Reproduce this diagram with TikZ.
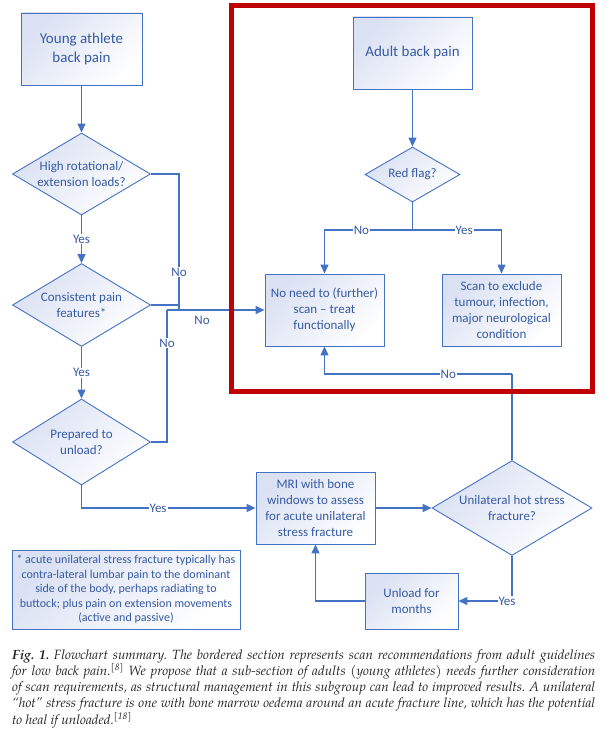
\documentclass[tikz,border=0pt]{standalone}
\usepackage{fontspec}
\setmainfont{Carlito}
\newfontfamily\capfont{TeX Gyre Pagella}
\usetikzlibrary{shapes.geometric,arrows.meta,calc}
\definecolor{ln}{RGB}{68,114,196}
\definecolor{tx}{RGB}{55,90,165}
\definecolor{bf}{RGB}{218,225,243}
\definecolor{rd}{RGB}{192,0,0}
\tikzset{
 box/.style={rectangle, draw=ln, line width=0.9pt, top color=bf, bottom color=white, shading angle=45, inner sep=0pt, align=center, text=tx, font=\fontsize{13}{16}\selectfont},
 dia/.style={diamond, draw=ln, line width=0.9pt, top color=bf, bottom color=white, shading angle=45, inner sep=0pt},
 dtext/.style={align=center, text=tx, font=\fontsize{13}{16.5}\selectfont, inner sep=0pt},
 conn/.style={draw=ln, line width=1.3pt},
 arr/.style={conn, -{Triangle[length=9pt,width=8pt]}},
 lab/.style={fill=white, inner sep=1pt, text=tx, font=\fontsize{13}{15}\selectfont},
 plainlab/.style={inner sep=1pt, text=tx, font=\fontsize{13}{15}\selectfont},
}
\begin{document}
\frenchspacing
\begin{tikzpicture}[x=1pt,y=-1pt]
\useasboundingbox[fill=white] (0,0) rectangle (607,741);
% nodes
\node[box, minimum width=121pt, minimum height=72pt, font=\fontsize{15}{19}\selectfont] (ya) at (81.5,49) {Young athlete\\back pain};
\node[dia, minimum width=138pt, minimum height=82pt] (d1) at (81.5,174) {};
\node[dtext] (d1t) at (d1.center) {High rotational/\\extension loads?};
\node[dia, minimum width=138pt, minimum height=83pt] (d2) at (81.5,305) {};
\node[dtext] (d2t) at (d2.center) {Consistent pain\\features*};
\node[dia, minimum width=138pt, minimum height=86pt] (d3) at (81.5,442) {};
\node[dtext] (d3t) at (d3.center) {Prepared to\\unload?};
\node[box, minimum width=119pt, minimum height=72pt, font=\fontsize{15}{19}\selectfont] (ad) at (412.5,53) {Adult back pain};
\node[dia, minimum width=95pt, minimum height=55pt] (rf) at (412.5,174.5) {};
\node[dtext] (rft) at (rf.center) {Red flag?};
\node[box, minimum width=119pt, minimum height=72pt] (nn) at (324.5,310) {No need to (further)\\scan – treat\\functionally};
\node[box, minimum width=119pt, minimum height=72pt] (sc) at (501.5,310) {Scan to exclude\\tumour, infection,\\major neurological\\condition};
\node[box, minimum width=119pt, minimum height=72pt] (mri) at (315.5,508) {MRI with bone\\windows to assess\\for acute unilateral\\stress fracture};
\node[dia, minimum width=160pt, minimum height=95pt] (uh) at (512,508) {};
\node[dtext] (uht) at (uh.center) {Unilateral hot stress\\fracture?};
\node[box, minimum width=93pt, minimum height=56pt] (ul) at (411.5,601) {Unload for\\months};
\node[box, minimum width=228pt, minimum height=79pt, font=\fontsize{12}{14.5}\selectfont] (fn) at (126,589.5) {* acute unilateral stress fracture typically has\\contra-lateral lumbar pain to the dominant\\side of the body, perhaps radiating to\\buttock; plus pain on extension movements\\(active and passive)};
% connectors
\coordinate (j1) at (179,310);
\coordinate (j2) at (167,310);
\draw[arr] (ya.south) -- (d1.north);
\draw[arr] (d1.south) -- node[lab]{Yes} (d2.north);
\draw[arr] (d2.south) -- node[lab]{Yes} (d3.north);
\draw[conn] (d1.east) -| node[lab,pos=0.86]{No} (j1);
\draw[conn] (d2.east) -- (d2.east -| j1);
\draw[conn] (d3.east) -| node[lab,pos=0.875]{No} (j2);
\draw[arr] (j2) -- node[plainlab,pos=0.36,below=5pt]{No} (nn.west);
\draw[arr] (d3.south) |- node[lab,pos=0.72]{Yes} (mri.west);
\draw[arr] (ad.south) -- (rf.north);
\coordinate (sp) at (412.5,230);
\draw[conn] (rf.south) -- (sp);
\draw[arr] (sp) -| node[lab,pos=0.29]{No} (nn.north);
\draw[arr] (sp) -| node[lab,pos=0.29]{Yes} (sc.north);
\draw[arr] (mri.east) -- (uh.west);
\coordinate (rt) at (512,374);
\draw[conn] (uh.north) -- (rt);
\draw[arr] (rt) -| node[lab,pos=0.17]{No} (nn.south);
\draw[arr] (uh.south) |- node[lab,pos=0.5,xshift=-5pt]{Yes} (ul.east);
\draw[arr] (ul.west) -| (mri.south);
% red frame
\draw[rd, line width=4.5pt] (231.5,5.5) rectangle (592.5,391.5);
% caption
\node[anchor=north west, inner sep=0pt, text width=583pt, align=justify, text=black!85, font=\capfont\itshape\fontsize{13.4}{15.75}\selectfont] (cap) at (12,649) {\textbf{Fig.~1.} Flowchart summary. The bordered section represents scan recommendations from adult guidelines\linebreak for low back pain.\textsuperscript{[8]} We propose that a sub-section of adults (young athletes) needs further consideration\linebreak of scan requirements, as structural management in this subgroup can lead to improved results. A unilateral\linebreak “hot” stress fracture is one with bone marrow oedema around an acute fracture line, which has the potential\linebreak to heal if unloaded.\textsuperscript{[18]}};
\end{tikzpicture}
\end{document}
